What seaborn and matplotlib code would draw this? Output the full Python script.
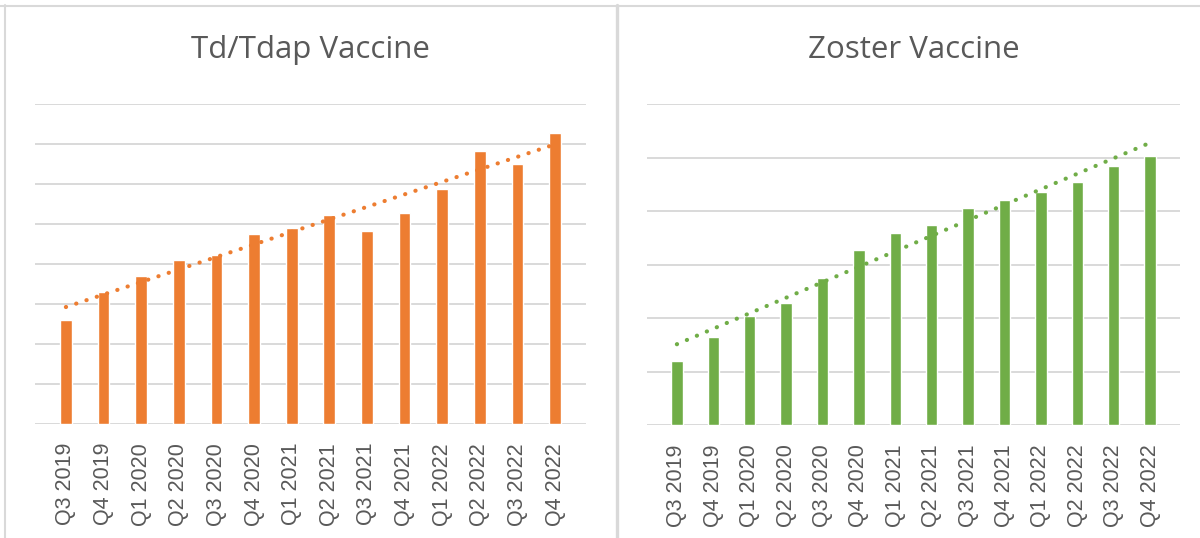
import numpy as np
import matplotlib
matplotlib.use("Agg")
import matplotlib.pyplot as plt
import seaborn as sns
from matplotlib.lines import Line2D

sns.set_style("white")
plt.rcParams['font.family'] = ['Liberation Sans', 'DejaVu Sans']

quarters = ["Q3 2019", "Q4 2019", "Q1 2020", "Q2 2020", "Q3 2020", "Q4 2020",
            "Q1 2021", "Q2 2021", "Q3 2021", "Q4 2021", "Q1 2022", "Q2 2022",
            "Q3 2022", "Q4 2022"]
tdap = [2.58, 3.29, 3.70, 4.10, 4.23, 4.75, 4.89, 5.23, 4.83, 5.28, 5.88, 6.83, 6.49, 7.27]
zoster = [1.19, 1.64, 2.04, 2.28, 2.75, 3.27, 3.58, 3.73, 4.06, 4.20, 4.36, 4.54, 4.84, 5.02]

panels = [
    ("Td/Tdap Vaccine", tdap, "#ED7D31", 8, [35, 104, 586, 423.5]),
    ("Zoster Vaccine", zoster, "#70AD47", 6, [647, 104, 1180, 425]),
]

W, H = 1200, 538
fig = plt.figure(figsize=(12, 5.38), dpi=100)
text_col = "#595959"
grid_col = "#d9d9d9"

for title, vals, color, ymax, (x0, y0, x1, y1) in panels:
    ax = fig.add_axes([x0 / W, (H - y1) / H, (x1 - x0) / W, (y1 - y0) / H])
    sns.barplot(x=quarters, y=vals, color=color, width=0.31, saturation=1, ax=ax)
    # linear trendline, as in the spreadsheet original
    xs = np.arange(len(vals))
    k, b = np.polyfit(xs, vals, 1)
    ax.plot(xs, k * xs + b, color=color, lw=3, linestyle=(0, (0.05, 2.55)),
            dash_capstyle='round', zorder=3)
    ax.set_ylim(0, ymax)
    ax.set_yticks(np.arange(0, ymax + 1))
    ax.set_yticklabels([])
    ax.grid(axis='y', color=grid_col, lw=1.4)
    ax.set_axisbelow(True)
    for s in ax.spines.values():
        s.set_visible(False)
    ax.tick_params(axis='x', length=0, pad=14, labelsize=15.5, labelcolor=text_col,
                   rotation=90)
    ax.tick_params(axis='y', length=0)
    ax.set_xlabel("")
    ax.set_ylabel("")
    fig.text((x0 + x1) / 2 / W, 1 - 50 / H, title, ha='center', va='center',
             fontsize=22.5, color=text_col, family='Open Sans')

# chart frame lines
def px_line(xa, ya, xb, yb, lw):
    fig.add_artist(Line2D([xa / W, xb / W], [1 - ya / H, 1 - yb / H],
                          color=grid_col, lw=lw, transform=fig.transFigure))

px_line(0, 5.5, W, 5.5, 1.5)
px_line(5, 5, 5, H, 1.5)
px_line(616.5, 5, 616.5, H, 2.4)

fig.savefig("out.png", dpi=100, facecolor="white")
